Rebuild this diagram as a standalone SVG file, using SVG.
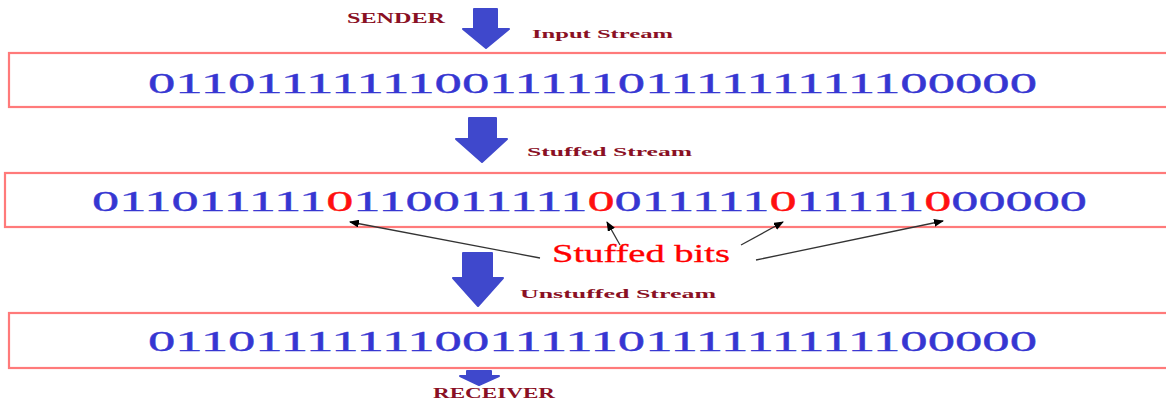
<svg xmlns="http://www.w3.org/2000/svg" width="1166" height="403" viewBox="0 0 1166 403">
<style>
.box{fill:#ffffff;stroke:#ff7a7a;stroke-width:2.2}
.bits{font-family:"Liberation Serif","Times New Roman",serif;font-size:30px;fill:#3636d2;stroke:#3636d2;stroke-width:0.35}
.red{fill:#ff1010;stroke:#ff1010}
.lbl{font-family:"Liberation Serif","Times New Roman",serif;font-weight:bold;fill:#8a1024}
.blk{fill:#3f48cc;stroke:#3f48cc;stroke-width:2;stroke-linejoin:round}
.ptr{stroke:#333333;stroke-width:1.3;fill:none;marker-end:url(#ah)}
.sb{font-family:"Liberation Serif","Times New Roman",serif;font-size:25px;fill:#ff0000;stroke:#ff0000;stroke-width:0.3}
</style>
<defs>
<marker id="ah" viewBox="0 0 10 8" refX="9" refY="4" markerWidth="10" markerHeight="8" markerUnits="userSpaceOnUse" orient="auto">
<path d="M0,0 L10,4 L0,8 z" fill="#000000"/>
</marker>
</defs>
<rect width="1166" height="403" fill="#ffffff"/>

<g id="sender">
<text class="lbl" x="347" y="23" font-size="14" textLength="98" lengthAdjust="spacingAndGlyphs">SENDER</text>
</g>
<g id="arrow-in">
<path class="blk" d="M474,9 L497,9 L497,29 L509,29 L486,48 L463,29 L474,29 Z"/>
</g>

<g id="input-stream">
<text class="lbl" x="532" y="38" font-size="13" textLength="141" lengthAdjust="spacingAndGlyphs">Input Stream</text>
<rect class="box" x="9" y="53" width="1170" height="54"/>
<text class="bits" x="148" y="93" textLength="889" lengthAdjust="spacingAndGlyphs">0110111111100111110111111111100000</text>
</g>
<g id="arrow-stuff">
<path class="blk" d="M469,118 L496,118 L496,139 L507,139 L482,162 L456,139 L469,139 Z"/>
</g>

<g id="stuffed-stream">
<text class="lbl" x="527" y="156" font-size="13" textLength="165" lengthAdjust="spacingAndGlyphs">Stuffed Stream</text>
<rect class="box" x="5" y="173" width="1170" height="54"/>
<text class="bits" x="92" y="211" textLength="995" lengthAdjust="spacingAndGlyphs">011011111<tspan class="red">0</tspan>110011111<tspan class="red">0</tspan>011111<tspan class="red">0</tspan>11111<tspan class="red">0</tspan>00000</text>
</g>

<g id="stuffed-bits">
<text class="sb" x="552" y="262" textLength="178" lengthAdjust="spacingAndGlyphs">Stuffed bits</text>
</g>

<g id="connectors">
<line class="ptr" x1="540" y1="258" x2="350" y2="222"/>
<line class="ptr" x1="620" y1="245" x2="607" y2="222"/>
<line class="ptr" x1="741" y1="245" x2="783" y2="222"/>
<line class="ptr" x1="756" y1="260" x2="943" y2="221"/>
</g>

<g id="arrow-unstuff">
<path class="blk" d="M463,253 L492,253 L492,278 L503,278 L478,306 L453,278 L463,278 Z"/>
</g>

<g id="unstuffed-stream">
<text class="lbl" x="520" y="298" font-size="13" textLength="196" lengthAdjust="spacingAndGlyphs">Unstuffed Stream</text>
<rect class="box" x="9" y="313" width="1170" height="55"/>
<text class="bits" x="148" y="351" textLength="889" lengthAdjust="spacingAndGlyphs">0110111111100111110111111111100000</text>
</g>
<g id="arrow-out">
<path class="blk" d="M467,371 L491,371 L491,376 L499,376 L479,385 L460,376 L467,376 Z"/>
</g>

<g id="receiver">
<text class="lbl" x="433" y="398" font-size="14" textLength="122" lengthAdjust="spacingAndGlyphs">RECEIVER</text>
</g>
</svg>
